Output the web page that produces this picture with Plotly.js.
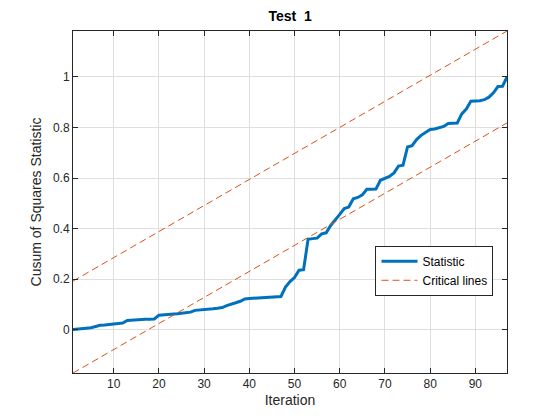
<!DOCTYPE html>
<html>
<head>
<meta charset="utf-8">
<script src="https://cdn.plot.ly/plotly-3.0.1.min.js"></script>
<style>html,body{margin:0;padding:0;background:#fff;}#chart{width:560px;height:420px;}</style>
</head>
<body>
<div id="chart"></div>
<script>
// Cusum of squares statistic, iterations 1..97
const iterations = Array.from({length: 97}, (_, i) => i + 1);
const statistic = [
  0.000, 0.002, 0.004, 0.005, 0.007, 0.012, 0.017, 0.018, 0.020, 0.022,
  0.024, 0.026, 0.036, 0.038, 0.039, 0.040, 0.041, 0.041, 0.042, 0.057,
  0.058, 0.060, 0.061, 0.063, 0.065, 0.067, 0.069, 0.076, 0.077, 0.078,
  0.080, 0.082, 0.084, 0.087, 0.095, 0.099, 0.106, 0.112, 0.121, 0.123,
  0.124, 0.125, 0.126, 0.128, 0.130, 0.131, 0.131, 0.168, 0.190, 0.206,
  0.235, 0.237, 0.357, 0.360, 0.362, 0.379, 0.383, 0.412, 0.436, 0.456,
  0.479, 0.485, 0.518, 0.523, 0.533, 0.555, 0.555, 0.556, 0.591, 0.598,
  0.606, 0.620, 0.647, 0.651, 0.723, 0.728, 0.752, 0.769, 0.779, 0.792,
  0.794, 0.800, 0.804, 0.816, 0.817, 0.818, 0.854, 0.873, 0.904, 0.905,
  0.906, 0.910, 0.920, 0.937, 0.962, 0.963, 1.000
];
// Critical lines (endpoints at first and last iteration)
const criticalX = [1, 97];
const upperCritical = [0.192, 1.182];
const lowerCritical = [-0.172, 0.818];
const xTicks = [10, 20, 30, 40, 50, 60, 70, 80, 90];
const yTicks = [0, 0.2, 0.4, 0.6, 0.8, 1];
const yTickLabels = ['0', '0.2', '0.4', '0.6', '0.8', '1'];

const font = 'Liberation Sans, Arial, Helvetica, sans-serif';
const axisColor = '#262626';

const traces = [
  {
    x: iterations, y: statistic, type: 'scatter', mode: 'lines',
    name: 'Statistic',
    line: {color: '#0072BD', width: 3}
  },
  {
    x: criticalX, y: upperCritical, type: 'scatter', mode: 'lines',
    name: 'Critical lines', legendgroup: 'crit',
    line: {color: '#D95319', width: 1, dash: '7px,4px'}
  },
  {
    x: criticalX, y: lowerCritical, type: 'scatter', mode: 'lines',
    name: 'Critical lines', legendgroup: 'crit', showlegend: false,
    line: {color: '#D95319', width: 1, dash: '7px,4px'}
  }
];

const layout = {
  width: 560, height: 420,
  margin: {l: 73, r: 53, t: 31, b: 47, pad: 0},
  paper_bgcolor: '#ffffff', plot_bgcolor: '#ffffff',
  font: {family: font, color: axisColor, size: 12},
  title: {
    text: '<b>Test  1</b>', font: {family: font, size: 14, color: '#000000'},
    x: 0.518, xanchor: 'center', y: 0.973, yanchor: 'top'
  },
  showlegend: true,
  legend: {
    x: 0.697, xanchor: 'left', y: 0.372, yanchor: 'top',
    bgcolor: '#ffffff', bordercolor: '#262626', borderwidth: 1,
    font: {family: font, size: 12, color: '#000000'},
    itemwidth: 36, tracegroupgap: 0
  },
  xaxis: {
    range: [1, 97], tickvals: xTicks,
    ticks: 'inside', ticklen: 5, tickwidth: 1, tickcolor: axisColor,
    showline: true, linecolor: axisColor, linewidth: 1, mirror: 'ticks',
    showgrid: true, gridcolor: '#dfdfdf', gridwidth: 1, zeroline: false,
    tickfont: {family: font, size: 12, color: axisColor},
    title: {text: 'Iteration', font: {family: font, size: 14, color: axisColor}, standoff: 4}
  },
  yaxis: {
    range: [-0.172, 1.182], tickvals: yTicks, ticktext: yTickLabels,
    ticks: 'inside', ticklen: 5, tickwidth: 1, tickcolor: axisColor,
    showline: true, linecolor: axisColor, linewidth: 1, mirror: 'ticks',
    showgrid: true, gridcolor: '#dfdfdf', gridwidth: 1, zeroline: false,
    tickfont: {family: font, size: 12, color: axisColor},
    title: {text: 'Cusum of Squares Statistic', font: {family: font, size: 14, color: axisColor}, standoff: 8}
  }
};

Plotly.newPlot('chart', traces, layout, {displayModeBar: false, staticPlot: true});
</script>
</body>
</html>
